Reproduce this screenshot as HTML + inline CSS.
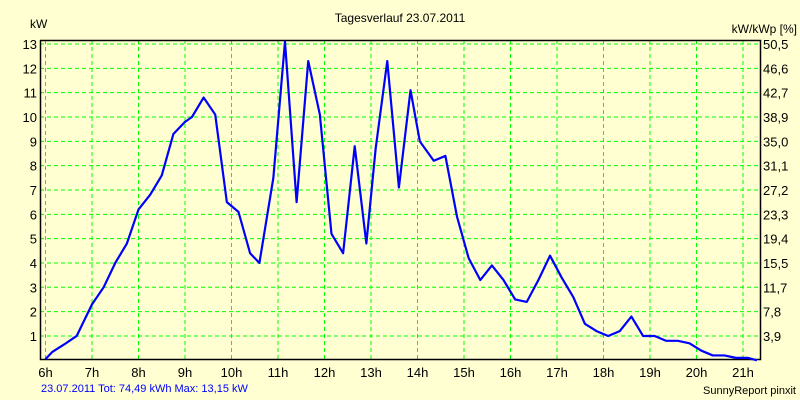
<!DOCTYPE html>
<html><head><meta charset="utf-8"><style>
body{margin:0;background:#ffffd2;}
svg{display:block;font-family:"Liberation Sans",sans-serif;}
</style></head><body>
<svg id="chart" width="800" height="400">
<rect width="800" height="400" fill="#ffffd2"/>
<text x="400" y="22" font-size="12" text-anchor="middle">Tagesverlauf 23.07.2011</text>
<text x="30" y="28" font-size="12">kW</text>
<text x="797" y="33" font-size="12" text-anchor="end">kW/kWp [%]</text>
<g id="grid"></g><g id="axes"></g><g id="series"></g>
<text x="41" y="392" font-size="11" fill="#0000ff">23.07.2011 Tot: 74,49 kWh Max: 13,15 kW</text>
<text x="796" y="394" font-size="11" text-anchor="end">SunnyReport pinxit</text>
</svg>
<script>
const hours=[6.0,6.15,6.4,6.67,7.0,7.25,7.5,7.75,8.0,8.25,8.5,8.75,9.0,9.15,9.4,9.65,9.9,10.15,10.4,10.6,10.9,11.15,11.4,11.65,11.9,12.15,12.4,12.65,12.9,13.1,13.35,13.6,13.85,14.05,14.35,14.6,14.85,15.1,15.35,15.6,15.85,16.1,16.35,16.6,16.85,17.1,17.35,17.6,17.85,18.1,18.35,18.6,18.85,19.1,19.35,19.6,19.85,20.1,20.35,20.6,20.85,21.1,21.3];
const power=[0.05,0.35,0.65,1.0,2.3,3.0,4.0,4.8,6.2,6.8,7.6,9.3,9.8,10.0,10.8,10.1,6.5,6.1,4.4,4.0,7.5,13.1,6.5,12.3,10.1,5.2,4.4,8.8,4.8,8.7,12.3,7.1,11.1,9.0,8.2,8.4,5.9,4.2,3.3,3.9,3.3,2.5,2.4,3.3,4.3,3.4,2.6,1.5,1.2,1.0,1.2,1.8,1.0,1.0,0.8,0.8,0.7,0.4,0.2,0.2,0.1,0.1,0.0];
const yTicks=[1,2,3,4,5,6,7,8,9,10,11,12,13];
const y2Labels=["3,9","7,8","11,7","15,5","19,4","23,3","27,2","31,1","35,0","38,9","42,7","46,6","50,5"];
const xTicks=[6,7,8,9,10,11,12,13,14,15,16,17,18,19,20,21];
const L=40,R=760,T=40,B=359;
const X=h=>45.5+(h-6)*46.5;
const Y=v=>360.3-v*24.33;
const NS="http://www.w3.org/2000/svg";
function mk(t,a,p){const e=document.createElementNS(NS,t);for(const k in a)e.setAttribute(k,a[k]);p.appendChild(e);return e;}
const grid=document.getElementById('grid'),axes=document.getElementById('axes'),ser=document.getElementById('series');
mk('rect',{x:L,y:T,width:R-L,height:B-T,fill:'#ffffd2'},grid);
yTicks.forEach((v,i)=>{
 const g=mk('line',{x1:L,x2:R,y1:Y(v),y2:Y(v),stroke:'#00ff00','stroke-dasharray':'4,3'},grid);
 
 
 const t=mk('text',{x:L-3,y:Y(v)+5,'font-size':13,'text-anchor':'end'},axes);t.textContent=v;
 
 
 const t2=mk('text',{x:R+3,y:Y(v)+5,'font-size':13},axes);t2.textContent=y2Labels[i];
 
 
});
xTicks.forEach(h=>{
 const g=mk('line',{x1:X(h),x2:X(h),y1:T,y2:B,stroke:'#00ff00','stroke-dasharray':'4,3'},grid);
 
 
 const t=mk('text',{x:X(h),y:B+18,'font-size':13,'text-anchor':'middle'},axes);t.textContent=h+'h';
 
 
});
const ax=mk('path',{d:`M${L+.5},${T} V${B+.5} H${R+.5} V${T+.5} H${L}`,fill:'none',stroke:'#000','stroke-width':1.5},axes);


const line=mk('polyline',{points:hours.map((h,i)=>X(h)+','+Y(power[i])).join(' '),fill:'none',stroke:'#0000ff','stroke-width':2.2,'stroke-linejoin':'round'},ser);


</script>
</body></html>
